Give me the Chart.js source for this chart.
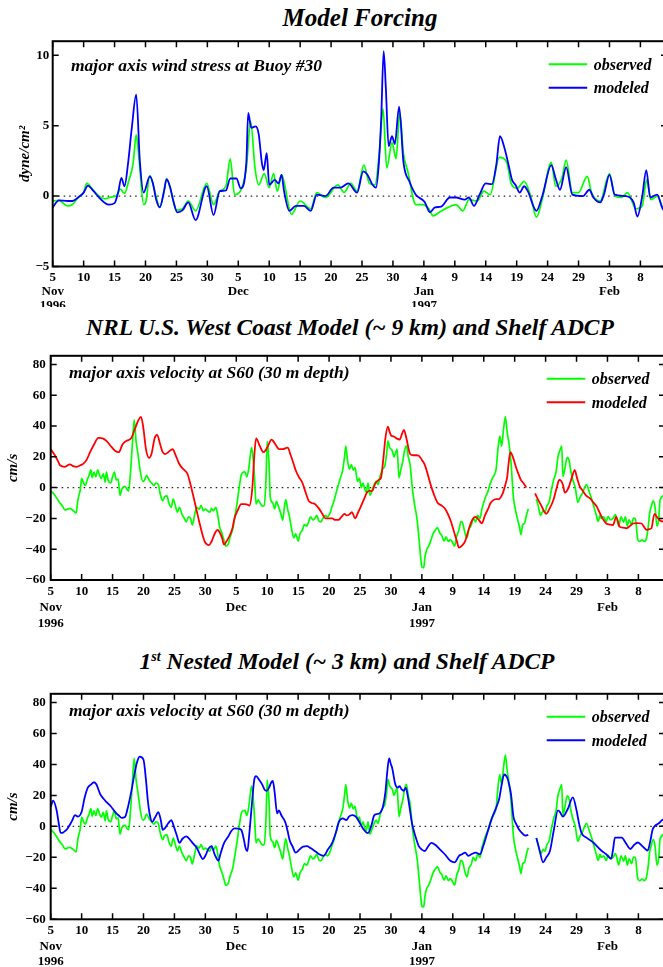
<!DOCTYPE html>
<html>
<head>
<meta charset="utf-8">
<script src="https://cdn.jsdelivr.net/npm/chart.js@4.4.1/dist/chart.umd.min.js"></script>
<style>
  body { margin:0; width:663px; height:967px; overflow:hidden; background:#fff; position:relative; }
  .title { position:absolute; width:640px; text-align:center; font:italic bold 23.5px "Liberation Serif", serif; line-height:24px; color:#000; white-space:nowrap; }
  .title sup { font-size:60%; line-height:0; vertical-align:0.6em; }
  .panel { position:absolute; left:0; }
</style>
</head>
<body>
<div class="title" style="left:40px; top:6px; font-size:25px;">Model Forcing</div>
<div class="panel" style="top:30px; width:667px; height:277px;"><canvas id="c1"></canvas></div>
<div class="title" style="left:30px; top:315px;">NRL U.S. West Coast Model (~ 9 km) and Shelf ADCP</div>
<div class="panel" style="top:343px; width:665px; height:297px;"><canvas id="c2"></canvas></div>
<div class="title" style="left:27px; top:649px;">1<sup>st</sup> Nested Model (~ 3 km) and Shelf ADCP</div>
<div class="panel" style="top:681px; width:665px; height:286px;"><canvas id="c3"></canvas></div>

<script>
// x axis: days since 5 Nov 1996
const tickDays = [0,5,10,15,20,25,30,35,40,45,50,55,60,65,70,75,80,85,90,95];
const dayLabels = ['5','10','15','20','25','30','5','10','15','20','25','30','4','9','14','19','24','29','3','8'];
const monthLabels = ['Nov','','','','','','Dec','','','','','','Jan','','','','','','Feb',''];
const yearLabels = ['1996','','','','','','','','','','','','1997','','','','','','',''];

const stressTicks = [-5, 0, 5, 10];
const velTicks = [-60, -40, -20, 0, 20, 40, 60, 80];

// wind stress at Buoy #30 (dyne/cm2), [day, value]
const stressObs = [[0,-0.35],[1.0,-0.3],[2.4,-0.7],[3.2,-0.6],[4.1,-0.1],[5.0,0.25],[5.5,0.9],[6.5,0.45],[7.5,0.0],[8.5,-0.2],[9.6,-0.05],[10.3,0.0],[10.9,0.5],[11.6,0.2],[12.3,1.1],[13.0,2.3],[13.5,4.35],[14.0,2.4],[14.7,-0.6],[15.0,-0.5],[15.7,1.45],[16.2,0.9],[16.7,0.0],[17.3,-0.8],[18.0,0.35],[18.4,1.2],[19.0,0.6],[19.5,-0.35],[20.0,-1.0],[21.0,-0.9],[21.9,-0.35],[23.1,-1.05],[24.9,0.9],[26.0,-0.6],[27.0,0.35],[28.0,0.7],[28.7,2.65],[29.4,0.1],[30.4,0.4],[31.3,2.0],[32.0,5.3],[32.7,2.0],[33.3,0.8],[34.2,1.6],[35.0,0.6],[35.7,1.6],[36.3,0.35],[37.0,1.5],[38.6,-1.3],[40.0,-0.35],[41.7,-0.9],[42.7,0.25],[44.1,-0.1],[46.1,0.8],[47.1,0.25],[48.2,0.9],[49.2,0.35],[50.3,2.2],[51.2,0.9],[52.1,0.8],[52.8,3.1],[53.4,6.2],[54.0,2.0],[54.85,3.8],[55.5,2.65],[56.1,5.9],[56.7,3.0],[57.4,1.75],[58.7,-0.6],[59.8,-0.6],[60.8,-0.9],[61.5,-1.4],[62.5,-1.15],[63.9,-0.8],[65.2,-0.6],[66.3,-1.05],[67.3,-0.25],[68.6,-0.35],[69.7,0.35],[70.7,0.1],[72.2,2.75],[73.4,2.4],[74.1,0.9],[75.1,0.55],[76.2,1.05],[77.2,0.1],[78.2,-1.5],[79.2,-0.1],[80.6,2.4],[81.3,0.7],[82.3,1.25],[83.0,2.55],[84.0,0.25],[85.0,0.25],[86.4,1.4],[87.1,0.25],[88.5,-0.35],[90.0,1.6],[90.9,0.0],[91.9,-0.1],[92.9,0.25],[94.3,-0.9],[95.3,-0.7],[96.0,1.15],[96.7,-0.25],[97.7,0.0],[98.6,-0.8],[99.3,-1.0]];
const stressMod = [[0,-0.8],[1.0,-0.3],[2.4,-0.35],[3.2,-0.35],[4.1,-0.1],[5.0,0.25],[5.7,0.75],[6.5,0.4],[7.5,-0.1],[8.5,-0.5],[9.1,-0.6],[10.0,-0.5],[10.6,0.3],[11.1,1.3],[11.6,0.7],[12.2,2.4],[12.8,4.9],[13.5,7.2],[14.1,2.4],[14.7,0.25],[15.7,1.4],[16.2,0.9],[16.7,-0.2],[17.3,-0.8],[18.0,0.35],[18.4,1.2],[19.0,0.6],[19.5,-0.35],[20.15,-1.15],[21.0,-1.0],[21.9,-0.45],[23.1,-1.7],[24.9,0.7],[26.0,-1.35],[27.0,0.35],[28.0,0.4],[28.7,1.25],[29.7,1.25],[30.4,0.55],[31.3,2.4],[31.6,5.9],[32.1,4.85],[32.8,4.95],[33.3,4.4],[33.8,2.4],[34.1,1.85],[34.6,3.05],[35.0,0.8],[35.9,1.15],[36.5,0.9],[37.0,1.5],[37.4,0.35],[38.25,-1.05],[39.3,-0.7],[40.6,-0.7],[41.7,-1.05],[42.7,0.1],[44.1,0.0],[45.4,0.6],[46.5,0.6],[47.8,0.9],[49.2,0.25],[50.2,1.75],[50.9,1.5],[51.7,0.8],[52.25,0.6],[52.7,2.2],[53.1,5.5],[53.5,10.3],[53.85,7.7],[54.3,3.55],[54.85,4.25],[55.3,3.7],[56.0,6.35],[56.7,2.4],[57.7,1.0],[58.7,0.1],[60.1,-0.4],[61.0,-1.15],[61.8,-0.8],[62.8,-0.75],[64.2,-0.1],[65.2,-0.1],[66.6,-0.25],[67.3,-0.1],[68.1,-0.7],[69.0,0.1],[70.0,0.9],[71.0,0.85],[71.7,2.2],[72.3,4.25],[73.1,3.3],[73.8,2.0],[74.25,1.15],[74.8,0.8],[75.5,0.25],[76.2,0.7],[76.8,0.35],[78.2,-1.05],[79.2,0.1],[80.6,2.2],[81.3,1.25],[82.0,0.45],[83.0,2.05],[84.0,0.1],[85.7,0.0],[86.75,0.45],[87.4,-0.1],[88.5,-0.45],[89.1,0.1],[90.0,1.5],[90.85,0.1],[92.5,0.0],[93.9,-0.45],[94.5,-1.45],[95.3,0.0],[95.95,1.85],[96.6,-0.1],[97.7,0.1],[98.6,-0.9],[99.3,-1.2]];

// major axis velocity at S60, 30 m (cm/s); null = gap in record
const velObs = [[0,-2.3],[0.5,-4],[1.0,-7],[1.4,-9.5],[1.9,-12],[2.3,-14.5],[2.7,-14],[3.1,-13.5],[3.5,-14.5],[3.8,-15.5],[4.1,-16.5],[4.4,-8],[4.8,-1],[5.0,6],[5.3,3],[5.6,1.5],[5.9,5],[6.2,8],[6.5,11.5],[6.7,6.5],[7.0,10],[7.3,7],[7.6,11.5],[7.9,8],[8.2,6],[8.5,9],[8.8,3.5],[9.0,10],[9.3,4.5],[9.7,3],[10.0,7],[10.3,10],[10.6,5],[10.9,5.5],[11.2,-5],[11.5,-1],[12.0,0.8],[12.3,-1],[12.6,-2.3],[12.9,10],[13.2,28],[13.5,44],[13.8,30],[14.1,22],[14.5,10],[14.9,4],[15.2,5],[15.5,8],[15.9,5],[16.3,3],[16.7,1.5],[17.0,3],[17.4,1.9],[17.7,-4],[18.1,-8.6],[18.4,-6],[18.8,-5.4],[19.1,-10],[19.5,-12.8],[19.8,-7.5],[20.1,-11],[20.5,-15.9],[20.8,-12.8],[21.2,-17],[21.6,-20],[21.9,-22.2],[22.3,-19],[22.6,-20],[22.9,-24.3],[23.3,-17],[23.6,-12.8],[24.0,-14],[24.3,-11.7],[24.7,-15],[25.0,-14],[25.3,-14.9],[25.7,-16],[26.0,-13.5],[26.3,-15],[26.7,-12.8],[27.0,-18],[27.3,-25.3],[27.7,-30],[28.0,-34],[28.3,-38],[28.7,-36.8],[29.0,-32],[29.4,-27.4],[29.8,-18],[30.1,-10.7],[30.4,-2],[30.8,8.2],[31.1,10],[31.4,10.3],[31.7,7],[32.0,12],[32.3,22],[32.5,26],[32.8,15],[33.0,2],[33.2,-10.7],[33.5,-8],[33.8,-9.6],[34.2,-12],[34.5,-11.7],[34.8,5],[35.0,30],[35.3,15],[35.5,-6.5],[35.9,-10],[36.2,-13.8],[36.5,-9],[36.8,-12],[37.2,-17],[37.5,-21.1],[37.8,-12],[38.0,-8],[38.3,-14],[38.6,-19],[38.9,-26],[39.3,-32.6],[39.6,-30],[40.0,-34.7],[40.3,-30],[40.7,-27.4],[41.0,-24],[41.4,-25],[41.7,-22.2],[42.0,-19],[42.4,-21],[42.7,-20],[43.0,-18],[43.4,-22],[43.7,-22.2],[44.0,-20],[44.4,-18],[44.7,-19],[45.1,-17],[45.5,-12],[45.8,-8.6],[46.1,-4],[46.5,1.9],[46.8,6],[47.2,11.3],[47.5,20],[47.7,27],[48.0,17],[48.3,12],[48.6,15],[48.9,11.3],[49.2,13],[49.6,4],[49.9,6],[50.2,0],[50.5,3],[50.7,-0.2],[51.0,-3],[51.3,2.9],[51.6,-5],[51.9,-2.3],[52.2,1],[52.6,4],[52.9,2],[53.3,8.2],[53.7,12.3],[54.0,14],[54.3,22],[54.5,30.3],[54.8,26],[55.2,24],[55.5,20],[55.7,22],[56.0,25],[56.3,6.3],[56.6,12],[56.9,16.7],[57.2,24],[57.5,27.2],[57.8,20],[58.1,14.6],[58.5,-2],[58.8,-10.7],[59.2,-20],[59.5,-31.6],[59.8,-45],[60.0,-51.5],[60.3,-52],[60.5,-45],[60.8,-40],[61.1,-38],[61.5,-33.7],[61.8,-30],[62.2,-27.4],[62.5,-26],[62.9,-29.5],[63.2,-31],[63.6,-34.7],[63.9,-32],[64.3,-35],[64.6,-33.7],[65.0,-36],[65.3,-37.9],[65.6,-32],[66.0,-27.4],[66.3,-22],[66.6,-23.2],[67.0,-30],[67.3,-32.6],[67.6,-27],[68.0,-24.3],[68.3,-20],[68.7,-22.2],[69.0,-18],[69.4,-20],[69.7,-14],[70.0,-9.6],[70.4,-5],[70.7,-2.3],[71.0,2],[71.4,6.1],[71.7,8.2],[72.0,12],[72.3,25],[72.6,33.5],[72.9,27],[73.2,38],[73.5,46],[73.8,35.6],[74.1,28],[74.4,16.7],[74.8,-6.5],[75.1,-14],[75.5,-21.1],[75.8,-26],[76.0,-30.5],[76.3,-24],[76.6,-23.2],[76.9,-18],[77.2,-13.8],[77.8,null],[78.5,-7.5],[78.8,-11.7],[79.2,-18],[79.6,-14.9],[79.9,-16],[80.2,-12],[80.6,-9],[80.9,-2.3],[81.3,5],[81.7,10.3],[82.0,20],[82.3,23.9],[82.6,27],[82.8,7.2],[83.1,12],[83.5,19.7],[83.8,17.6],[84.1,10],[84.4,5],[84.8,0],[85.2,-9.6],[85.6,-6],[86.0,-3.3],[86.3,0],[86.6,1.9],[87.1,-3.3],[87.5,-8],[87.9,-13.8],[88.2,-18],[88.5,-22],[88.8,-18],[89.0,-20],[89.4,-19],[89.8,-22],[90.1,-18.75],[90.5,-21],[90.9,-20],[91.3,-17.6],[91.6,-22],[91.8,-25],[92.2,-19],[92.6,-22.5],[92.9,-19],[93.2,-25],[93.5,-21],[93.9,-24],[94.2,-19.8],[94.5,-20],[94.9,-33.8],[95.2,-35],[95.6,-34],[95.9,-35],[96.3,-33],[96.6,-25],[96.8,-17],[97.1,-12],[97.4,-8.6],[97.7,-13],[98.0,-25],[98.3,-20],[98.5,-8],[99.3,-5]];

const velNrl = [[0,25],[0.7,20.8],[1.2,17],[1.5,14.5],[2.3,13.5],[3.1,15.1],[3.6,14],[4.2,13.5],[4.8,14.5],[5.3,15.6],[5.8,18],[6.35,22.9],[7.0,28],[7.7,32.3],[8.4,32],[9.05,30.2],[9.7,27],[10.4,23.9],[11.0,23],[11.6,28],[12.3,30.5],[13.0,32],[13.6,38],[14.2,44],[14.6,45.9],[15.0,38],[15.4,25],[15.9,19.3],[16.3,22],[16.8,32],[17.2,34.3],[17.7,28],[18.1,23],[18.5,21.8],[19.0,23],[19.7,24.9],[20.2,21],[20.7,16],[21.2,13],[21.7,11],[22.1,9],[22.6,2],[23.2,-8],[23.6,-15],[24.0,-22],[24.5,-30],[24.9,-35],[25.3,-37],[25.6,-37.3],[26.0,-35],[26.4,-31],[26.7,-28.5],[27.0,-27.4],[27.3,-29],[27.7,-32.7],[28.0,-37],[28.4,-35],[29.0,-30.6],[29.4,-26],[29.7,-20],[30.2,-15],[30.8,-10.7],[31.4,-10.7],[31.8,-11],[32.1,-11.7],[32.6,0],[32.9,20],[33.2,32],[33.8,27],[34.4,23],[35.0,26],[35.7,31.2],[36.0,30],[36.5,27],[36.9,25],[37.5,25],[38.3,26],[38.8,21],[39.3,15],[39.6,11.3],[40.1,7],[40.7,3],[41.2,-3],[41.7,-8.6],[42.2,-10],[42.7,-10.7],[43.4,-13.8],[43.9,-17],[44.4,-20],[45.0,-20],[45.5,-20],[46.0,-21],[46.5,-21],[47.0,-19],[47.5,-17],[47.8,-18],[48.2,-17.6],[48.7,-16],[49.2,-20],[49.7,-16],[50.2,-11.7],[50.6,-8],[51.1,-3.4],[51.5,-2],[51.9,-2.3],[52.5,2.9],[53.0,5],[53.4,6.5],[53.8,20],[54.1,32],[54.5,39.6],[54.8,36],[55.1,33.5],[55.4,33.3],[55.9,32],[56.4,31.2],[56.8,35],[57.1,37.5],[57.5,32],[58.1,21.8],[58.6,21],[59.1,21],[59.5,20.7],[60.0,18],[60.5,14.4],[61.2,5],[61.5,0.8],[62.0,-5],[62.5,-9.6],[63.2,-11.7],[63.8,-14],[64.3,-18],[64.7,-22],[65.1,-27.4],[65.6,-34],[66.0,-39],[66.4,-38],[67.0,-34.8],[67.5,-28],[68.0,-22.2],[68.4,-19.5],[68.7,-19],[69.2,-21],[69.7,-23.2],[70.2,-18],[70.7,-13.8],[71.1,-10],[71.4,-8.6],[72.0,-7.5],[72.4,-7.5],[73.1,-3.4],[73.5,2],[73.8,7.1],[74.0,15],[74.3,23],[74.7,20],[75.2,13.4],[75.6,9],[76.0,5],[76.4,3],[76.9,0],[77.6,null],[78.3,-3.8],[78.8,-8],[79.3,-11.7],[79.7,-15],[80.1,-17],[80.6,-14],[81.3,-7.5],[81.8,0],[82.2,5],[82.8,1.9],[83.1,-3.3],[83.7,-0.2],[84.2,6],[84.7,11.3],[85.1,6],[85.5,0.9],[86.0,-2],[86.6,-5.4],[87.2,-7],[87.7,-9.6],[88.2,-12],[88.7,-15.9],[89.2,-20],[89.8,-23.3],[90.4,-24],[90.9,-24.3],[91.4,-19],[92.0,-25.5],[92.5,-26],[93.1,-26.4],[93.6,-25],[94.1,-23.3],[94.8,-23],[95.5,-23.3],[96.0,-26],[96.3,-27.5],[96.7,-27],[97.1,-26.4],[97.6,-17],[98.0,-19],[98.4,-21],[98.9,-22],[99.3,-22]];

const velNest = [[0,12.5],[0.4,16.6],[0.95,10.4],[1.3,2],[1.6,-4.2],[2.0,-4],[2.3,-3.1],[2.7,-1.5],[3.1,1],[3.5,4],[3.9,7.3],[4.4,6.3],[5.0,9.4],[5.5,18.75],[6.0,25],[6.5,27],[7.0,28.5],[7.4,27],[8.0,20.8],[8.5,18],[9.05,15.6],[9.7,13],[10.4,9.4],[11.0,7],[11.5,5.5],[12.0,6],[12.4,11],[13.0,22],[13.6,35],[14.0,42],[14.4,45],[15.0,43],[15.4,30],[15.7,16.7],[16.0,8],[16.4,2.9],[16.9,6],[17.4,9.2],[17.8,4],[18.1,-2.3],[18.5,-1],[19.0,2],[19.5,4],[19.9,0],[20.4,-6],[20.8,-10.7],[21.3,-8],[21.9,-6.5],[22.5,-8.5],[23.0,-11],[23.6,-13.8],[24.1,-18],[24.6,-21.1],[25.0,-19],[25.5,-14.5],[26.0,-12.8],[26.5,-18],[27.1,-22.2],[27.5,-17],[28.0,-11],[28.7,-6.5],[29.2,-3],[29.7,-1.3],[30.3,-1.5],[30.8,-2.3],[31.2,-8],[31.5,-14],[31.8,-15.9],[32.1,-5],[32.3,4],[32.6,18],[32.9,30],[33.2,32.4],[33.7,30],[34.2,27],[34.6,23.5],[34.9,23],[35.3,25],[35.6,28],[35.9,29.3],[36.2,22],[36.6,8.4],[36.9,10.3],[37.3,7],[37.9,2.9],[38.3,-3],[38.6,-8.6],[39.1,-13],[39.6,-17],[40.2,-15],[40.8,-13],[41.4,-12.8],[42.0,-14],[42.7,-15.9],[43.4,-18],[44.1,-19],[44.8,-15],[45.5,-10.7],[46.1,-4],[46.6,3],[47.2,5.2],[47.8,4],[48.2,6.3],[48.8,7.3],[49.4,6],[50.0,2],[50.5,-1.5],[51.3,-4.4],[51.8,0],[52.3,7.1],[52.8,8],[53.3,9],[53.7,12.5],[54.1,22],[54.4,35],[54.7,43.9],[55.0,40],[55.2,37.7],[55.7,27.2],[56.1,25],[56.4,26],[56.7,24],[57.1,23],[57.4,25],[57.7,20],[58.0,12.5],[58.4,2],[59.0,-7],[59.5,-12.8],[60.0,-15],[60.5,-15.9],[61.0,-13],[61.5,-10.7],[62.2,-12],[62.9,-14.9],[63.7,-18],[64.6,-22.2],[65.3,-23.2],[66.0,-19],[66.5,-18],[67.0,-17],[67.5,-19],[68.0,-18],[68.7,-17],[69.4,-18],[69.9,-13],[70.4,-6.5],[70.9,0],[71.4,6.1],[72.0,12],[72.5,17.8],[72.9,27],[73.3,33.5],[73.8,31.4],[74.1,27],[74.4,21],[74.8,6.3],[75.2,1.9],[75.7,-2],[76.2,-4.4],[76.7,-6],[77.2,-5.4],[77.8,null],[78.5,-7.5],[79.0,-15],[79.6,-23.2],[80.1,-20],[80.7,-15.9],[81.3,-3],[82.0,10.3],[82.3,9.4],[82.8,6.3],[83.6,11.4],[84.4,18.7],[85.0,10.4],[85.4,2],[85.8,-4.2],[86.6,-7.3],[87.7,-10.4],[89.0,-15.6],[89.8,-18],[90.6,-20.8],[90.9,-15],[91.2,-7.3],[92.3,-7.3],[93.0,-11],[93.7,-14.6],[94.3,-12],[94.9,-10.4],[95.7,-13],[96.5,-15.6],[96.9,-10],[97.3,-2],[97.6,0],[98.3,2],[98.9,4.2],[99.3,4.5]];

const GREEN = '#00ff00', BLUE = '#0000ff', RED = '#ff0000';
const SERIF = '"Liberation Serif", "Times New Roman", serif';
Chart.defaults.font.family = SERIF;
Chart.defaults.color = '#000';

function pts(arr){ return arr.map(p => ({x: p[0], y: p[1]})); }

function minusFmt(v){ return v < 0 ? '\u2212' + Math.abs(v) : String(v); }

function dateLabel(value){
  const i = tickDays.indexOf(value);
  if(i < 0) return '';
  const lines = [dayLabels[i]];
  if(monthLabels[i] || yearLabels[i]) lines.push(monthLabels[i]);
  if(yearLabels[i]) lines.push(yearLabels[i]);
  return lines.length === 1 ? lines[0] : lines;
}

// box, inward ticks, zero line, note text and legend
const panelDecor = {
  id: 'panelDecor',
  beforeDatasetsDraw(chart){
    const {ctx, chartArea: a} = chart;
    const y0 = chart.scales.y.getPixelForValue(0);
    ctx.save();
    ctx.strokeStyle = '#222';
    ctx.lineWidth = 1.3;
    ctx.setLineDash([1.5, 4]);
    ctx.beginPath();
    ctx.moveTo(a.left, y0);
    ctx.lineTo(a.right, y0);
    ctx.stroke();
    ctx.restore();
  },
  afterDraw(chart, args, opts){
    const {ctx, chartArea: a} = chart;
    const xs = chart.scales.x, ys = chart.scales.y;
    ctx.save();
    ctx.strokeStyle = '#000';
    ctx.lineWidth = 2;
    ctx.strokeRect(a.left, a.top, a.right - a.left, a.bottom - a.top);
    ctx.lineWidth = 1.5;
    ctx.beginPath();
    xs.ticks.forEach(t => {
      const x = xs.getPixelForValue(t.value);
      ctx.moveTo(x, a.bottom); ctx.lineTo(x, a.bottom - 6);
      ctx.moveTo(x, a.top); ctx.lineTo(x, a.top + 6);
    });
    ys.ticks.forEach(t => {
      const y = ys.getPixelForValue(t.value);
      ctx.moveTo(a.left, y); ctx.lineTo(a.left + 6, y);
      ctx.moveTo(a.right, y); ctx.lineTo(a.right - 6, y);
    });
    ctx.stroke();

    ctx.fillStyle = '#000';
    ctx.textBaseline = 'middle';
    ctx.textAlign = 'left';
    ctx.font = 'italic bold 17.5px ' + SERIF;
    ctx.fillText(opts.note, a.left + 18.3, a.top + opts.noteY);

    ctx.font = 'italic bold 16px ' + SERIF;
    chart.data.datasets.forEach((ds, i) => {
      const y = a.top + 23 + i * 23.5;
      ctx.strokeStyle = ds.borderColor;
      ctx.lineWidth = 2;
      ctx.beginPath();
      ctx.moveTo(a.left + 496, y);
      ctx.lineTo(a.left + 534.5, y);
      ctx.stroke();
      ctx.fillText(ds.label, a.left + 541, y + 1.5);
    });
    ctx.restore();
  }
};

function makePanel(id, cfg){
  const ctx = document.getElementById(id).getContext('2d');
  return new Chart(ctx, {
    type: 'line',
    data: {
      datasets: [{
        label: 'observed',
        data: pts(cfg.obs),
        borderColor: GREEN,
        borderWidth: 1.7,
        tension: cfg.obsSmooth ? 0.4 : 0,
        cubicInterpolationMode: 'monotone',
        pointRadius: 0,
        order: 1
      }, {
        label: 'modeled',
        data: pts(cfg.mod),
        borderColor: cfg.modColor,
        borderWidth: 1.8,
        tension: 0.4,
        cubicInterpolationMode: 'monotone',
        pointRadius: 0,
        order: 0
      }]
    },
    options: {
      responsive: true,
      maintainAspectRatio: false,
      animation: false,
      spanGaps: false,
      layout: { padding: { top: cfg.padTop, left: 0, right: 0, bottom: 0 } },
      plugins: {
        legend: { display: false },
        tooltip: { enabled: false },
        panelDecor: { note: cfg.note, noteY: cfg.noteY }
      },
      scales: {
        x: {
          type: 'linear',
          min: 0, max: 99.3,
          grid: { display: false, drawTicks: false },
          border: { display: false },
          afterBuildTicks: s => { s.ticks = tickDays.map(v => ({value: v})); },
          afterFit: s => { s.height = cfg.xHeight; },
          ticks: {
            autoSkip: false, maxRotation: 0, padding: cfg.xPad,
            font: { size: 13, weight: 'bold', lineHeight: cfg.lineH + 'px' },
            callback: dateLabel
          }
        },
        y: {
          min: cfg.yMin, max: cfg.yMax,
          grid: { display: false, drawTicks: false },
          border: { display: false },
          afterBuildTicks: s => { s.ticks = cfg.yTicks.map(v => ({value: v})); },
          afterFit: s => { s.width = cfg.yWidth; },
          ticks: { padding: cfg.yPad, font: { size: 13, weight: 'bold' }, callback: minusFmt },
          title: {
            display: true, text: cfg.yTitle,
            font: { size: 15, weight: 'bold', style: 'italic' },
            padding: { top: cfg.yTitlePad, bottom: 0 }
          }
        }
      }
    },
    plugins: [panelDecor]
  });
}

makePanel('c1', {
  obs: stressObs, mod: stressMod, modColor: BLUE,
  obsSmooth: true,
  note: 'major axis wind stress at Buoy #30', noteY: 25.7,
  yMin: -5, yMax: 11, yTicks: stressTicks, yTitle: 'dyne/cm\u00b2', yTitlePad: 16,
  yWidth: 52.7, yPad: 3.4, padTop: 6, xHeight: 40.5, xPad: 4.5, lineH: 14
});

makePanel('c2', {
  obs: velObs, mod: velNrl, modColor: RED,
  obsSmooth: false,
  note: 'major axis velocity at S60 (30 m depth)', noteY: 17.4,
  yMin: -60, yMax: 85.6, yTicks: velTicks, yTitle: 'cm/s', yTitlePad: 4.3,
  yWidth: 50.7, yPad: 5, padTop: 6.3, xHeight: 60, xPad: 3.7, lineH: 16
});

makePanel('c3', {
  obs: velObs, mod: velNest, modColor: BLUE,
  obsSmooth: false,
  note: 'major axis velocity at S60 (30 m depth)', noteY: 17.7,
  yMin: -60, yMax: 85.6, yTicks: velTicks, yTitle: 'cm/s', yTitlePad: 4.3,
  yWidth: 50.7, yPad: 5, padTop: 6.3, xHeight: 47.7, xPad: 3.6, lineH: 15.5
});
</script>
</body>
</html>
